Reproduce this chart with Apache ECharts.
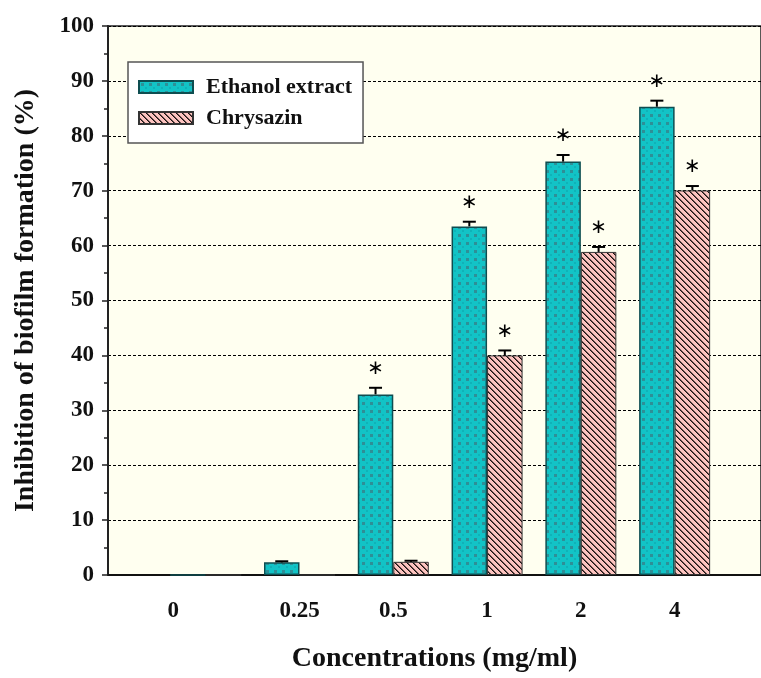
<!DOCTYPE html>
<html><head><meta charset="utf-8">
<script src="https://cdn.jsdelivr.net/npm/echarts@6/dist/echarts.min.js"></script>
<style>html,body{margin:0;padding:0;background:#fff}#c{width:761px;height:678px}</style>
</head><body><div id="c"></div>
<script>
// ---- data ----
const categories = ['0', '0.25', '0.5', '1', '2', '4'];
const ethanolValues = [0, 2.3, 32.9, 63.5, 75.3, 85.3];
const ethanolErrors = [0, 0.2, 1.2, 0.85, 1.2, 1.1];
const ethanolSig = [0, 0, 1, 1, 1, 1];
const chrysazinValues = [0, 0, 2.4, 40.0, 58.85, 70.05];
const chrysazinErrors = [0, 0, 0.2, 0.9, 0.9, 0.8];
const chrysazinSig = [0, 0, 0, 1, 1, 1];
const seriesNames = ['Ethanol extract', 'Chrysazin'];
const xAxisTitle = 'Concentrations (mg/ml)';
const yAxisTitle = 'Inhibition of biofilm formation (%)';
const sigMark = '\u2217';

// ---- styling ----
const FONT = "'Liberation Serif', 'DejaVu Serif', serif";
const BAR_W = 35.5;

function makeDots() {
  const c = document.createElement('canvas'); c.width = 8; c.height = 8;
  const g = c.getContext('2d');
  g.fillStyle = '#12C3C6'; g.fillRect(0, 0, 8, 8);
  g.fillStyle = '#2E8F97'; g.fillRect(2, 2, 3, 3);
  g.fillStyle = '#10B2B8'; g.fillRect(6, 6, 2, 2);
  return c;
}
function makeHatch() {
  const n = 6;
  const c = document.createElement('canvas'); c.width = n; c.height = n;
  const g = c.getContext('2d');
  g.fillStyle = '#FCC3BF'; g.fillRect(0, 0, n, n);
  for (let i = 0; i < n; i++) {
    g.fillStyle = '#1a1010'; g.fillRect(i, i, 1, 1);
    g.fillStyle = '#6e5452'; g.fillRect((i + 1) % n, i, 1, 1);
  }
  return c;
}
const dotFill = { image: makeDots(), repeat: 'repeat' };
const hatchFill = { image: makeHatch(), repeat: 'repeat' };

function barData(vals) { return vals.map((v, i) => [i, v]); }
function errData(vals, errs, sig) { return vals.map((v, i) => [i, v, errs[i], sig[i]]); }

function errRenderer(side) {
  return function (params, api) {
    const x = api.value(0), v = api.value(1), e = api.value(2), s = api.value(3);
    if (!(v > 0)) return null;
    const base = api.coord([x, v]);
    const top = api.coord([x, v + e]);
    const px = base[0] + side * BAR_W / 2;
    const children = [
      { type: 'line', shape: { x1: px, y1: base[1], x2: px, y2: top[1] }, style: { stroke: '#000', lineWidth: 2 } },
      { type: 'line', shape: { x1: px - 6.5, y1: top[1], x2: px + 6.5, y2: top[1] }, style: { stroke: '#000', lineWidth: 2 } }
    ];
    if (s) {
      children.push({ type: 'text', style: { x: px, y: top[1] - 19, text: sigMark, fill: '#000',
        font: "20px 'DejaVu Sans', sans-serif", align: 'center', verticalAlign: 'middle' } });
    }
    return { type: 'group', children };
  };
}

const chart = echarts.init(document.getElementById('c'), null, { renderer: 'canvas' });
chart.setOption({
  animation: false,
  backgroundColor: '#fff',
  grid: { left: 108, right: -5, top: 26, bottom: 102, show: true, backgroundColor: '#FFFFF0', borderColor: '#222', borderWidth: 1.5 },
  legend: {
    data: seriesNames, orient: 'vertical', left: 128, top: 62, icon: 'rect',
    backgroundColor: '#fff', borderColor: '#555', borderWidth: 1.5,
    padding: [14, 11, 14, 10], itemWidth: 54, itemHeight: 12, itemGap: 9,
    textStyle: { fontFamily: FONT, fontWeight: 'bold', fontSize: 22, color: '#111', padding: [0, 0, 0, 8] }
  },
  xAxis: {
    type: 'value', min: -1.042, max: 5.921,
    name: xAxisTitle, nameLocation: 'middle', nameGap: 70,
    nameTextStyle: { fontFamily: FONT, fontWeight: 'bold', fontSize: 28, color: '#111' },
    axisLine: { show: true, onZero: false, lineStyle: { color: '#111', width: 2 } },
    axisTick: { show: false }, splitLine: { show: false },
    axisLabel: {
      customValues: categories.map((c, i) => i),
      margin: 25,
      fontFamily: FONT, fontWeight: 'bold', fontSize: 23, color: '#111',
      formatter: (v) => v === 0 ? '{s|' + categories[0] + '}' : categories[v],
      rich: { s: { fontFamily: FONT, fontWeight: 'bold', fontSize: 23, color: '#111', padding: [0, 65, 0, 0] } }
    }
  },
  yAxis: {
    type: 'value', min: 0, max: 100, interval: 10,
    name: yAxisTitle, nameLocation: 'middle', nameGap: 68,
    nameTextStyle: { fontFamily: FONT, fontWeight: 'bold', fontSize: 28, color: '#111' },
    axisLine: { show: true, onZero: false, lineStyle: { color: '#222', width: 2 } },
    axisTick: { show: true, length: 6, lineStyle: { color: '#222', width: 1.5 } },
    minorTick: { show: true, splitNumber: 2, length: 4, lineStyle: { color: '#222', width: 1.5 } },
    axisLabel: { margin: 14, fontFamily: FONT, fontWeight: 'bold', fontSize: 23, color: '#111' },
    splitLine: { show: true, lineStyle: { color: '#000', width: 1, type: [3, 2] } }
  },
  series: [
    { name: seriesNames[0], type: 'bar', barWidth: BAR_W, barGap: '0%', data: barData(ethanolValues),
      itemStyle: { color: dotFill, borderColor: '#0E4D50', borderWidth: 1.5 } },
    { name: seriesNames[1], type: 'bar', barWidth: BAR_W, barGap: '0%', data: barData(chrysazinValues),
      itemStyle: { color: hatchFill, borderColor: '#333', borderWidth: 1 } },
    { type: 'custom', renderItem: errRenderer(-1), data: errData(ethanolValues, ethanolErrors, ethanolSig), z: 5, silent: true },
    { type: 'custom', renderItem: errRenderer(1), data: errData(chrysazinValues, chrysazinErrors, chrysazinSig), z: 5, silent: true }
  ]
});
</script>
</body></html>
